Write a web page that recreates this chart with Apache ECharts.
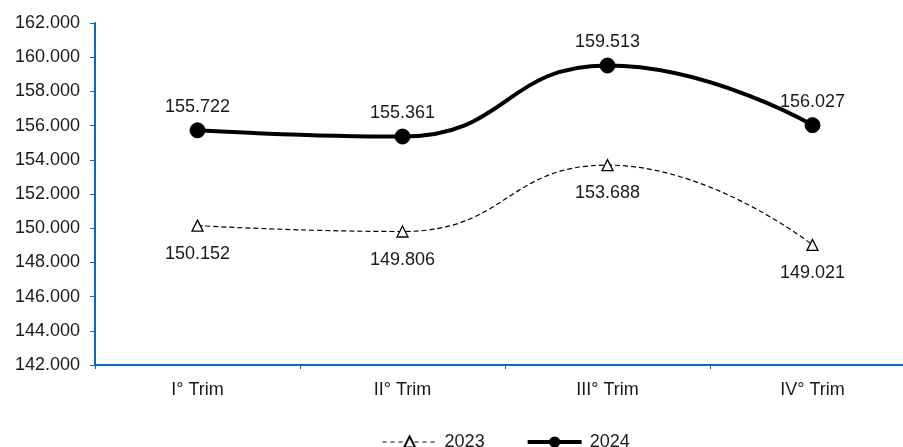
<!DOCTYPE html>
<html>
<head>
<meta charset="utf-8">
<script src="https://cdn.jsdelivr.net/npm/echarts@6/dist/echarts.min.js"></script>
<style>
html,body{margin:0;padding:0;background:#fff;}
#c{width:903px;height:447px;}
</style>
</head>
<body>
<div id="c"></div>
<script>
const categories = ['I° Trim', 'II° Trim', 'III° Trim', 'IV° Trim'];
const values2023 = [150152, 149806, 153688, 149021];
const values2024 = [155722, 155361, 159513, 156027];
const yMin = 142000, yMax = 162000, yStep = 2000;

function fmt(v) {
  const s = Math.round(v).toString();
  return s.replace(/\B(?=(\d{3})+(?!\d))/g, '.');
}

const font = 'Liberation Sans, Arial, sans-serif';
const axisBlue = '#0b66cc';
const txt = '#1a1a1a';
const chart = echarts.init(document.getElementById('c'), null, {renderer: 'canvas'});
chart.setOption({
  animation: false,
  backgroundColor: '#fff',
  grid: {left: 95, top: 23, width: 820, height: 342, containLabel: false, outerBoundsMode: 'none'},
  legend: {
    left: 382, top: 433, padding: 0,
    itemWidth: 54, itemHeight: 14, itemGap: 41,
    textStyle: {fontFamily: font, fontSize: 18, color: txt, padding: [0, 0, 0, 3]},
    data: [
      {name: '2023', lineStyle: {width: 1.2, type: [4, 4]}},
      {name: '2024', lineStyle: {width: 4}}
    ]
  },
  xAxis: {
    type: 'category',
    data: categories,
    boundaryGap: true,
    axisLine: {lineStyle: {color: axisBlue, width: 2}},
    axisTick: {show: true, length: 4, lineStyle: {color: axisBlue, width: 1}, alignWithLabel: false},
    axisLabel: {fontFamily: font, fontSize: 18, color: txt, margin: 16},
    splitLine: {show: false}
  },
  yAxis: {
    type: 'value',
    min: yMin, max: yMax, interval: yStep,
    axisLine: {show: true, lineStyle: {color: axisBlue, width: 2}},
    axisTick: {show: true, length: 5, lineStyle: {color: axisBlue, width: 1}},
    axisLabel: {fontFamily: font, fontSize: 18, color: txt, margin: 15, formatter: fmt},
    splitLine: {show: false}
  },
  series: [
    {
      name: '2023',
      type: 'line',
      data: values2023,
      smooth: 0.5,
      symbol: 'triangle',
      symbolSize: 11,
      lineStyle: {color: '#000', width: 1.2, type: [5, 3]},
      itemStyle: {color: '#fff', borderColor: '#000', borderWidth: 1.3},
      label: {show: true, position: 'bottom', distance: 13, fontFamily: font, fontSize: 18, color: txt, formatter: p => fmt(p.value)},
      z: 2
    },
    {
      name: '2024',
      type: 'line',
      data: values2024,
      smooth: 0.5,
      symbol: 'circle',
      symbolSize: 15,
      lineStyle: {color: '#000', width: 4},
      itemStyle: {color: '#000', borderColor: '#000'},
      label: {show: true, position: 'top', distance: 6, fontFamily: font, fontSize: 18, color: txt, formatter: p => fmt(p.value)},
      z: 3
    }
  ]
});
</script>
</body>
</html>
